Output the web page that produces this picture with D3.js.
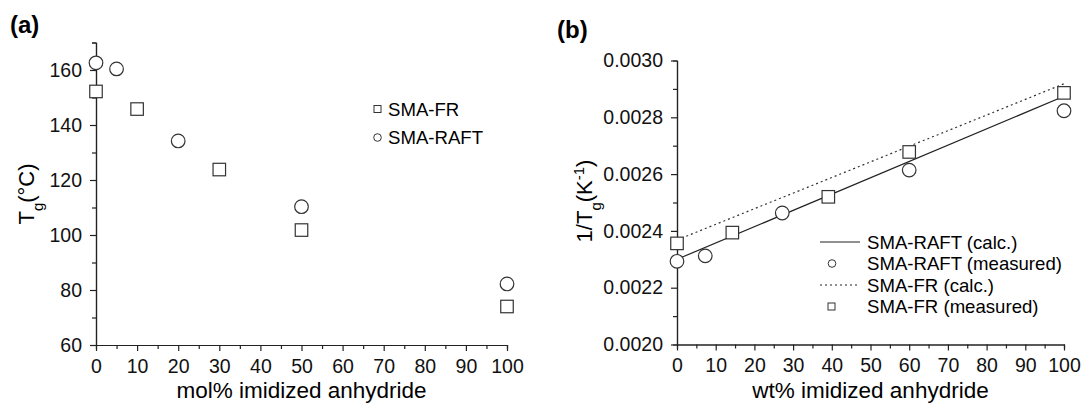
<!DOCTYPE html>
<html>
<head>
<meta charset="utf-8">
<script src="https://cdn.jsdelivr.net/npm/d3@7"></script>
<style>
  body { margin: 0; background: #fff; }
  svg { display: block; font-family: "Liberation Sans", Arial, sans-serif; }
  .axis path, .axis line { stroke: #222; stroke-width: 1.2; }
  .axis text { font-size: 19.5px; fill: #111; }
</style>
</head>
<body>
<div id="chart"></div>
<script>
// panel (a): Tg vs mol% imidized anhydride
var molFR = [0, 10, 30, 50, 100];
var tgFR = [152.2, 145.8, 123.8, 101.8, 74.0];
var molRAFT = [0, 5, 20, 50, 100];
var tgRAFT = [162.6, 160.4, 134.2, 110.3, 82.2];

// panel (b): 1/Tg vs wt% imidized anhydride
var wtRAFT = [0, 7.3, 27.2, 60, 100];
var invRAFT = [0.002293, 0.002312, 0.002463, 0.002614, 0.002823];
var wtFR = [0, 14.3, 39.1, 60, 100];
var invFR = [0.002356, 0.002394, 0.002520, 0.002678, 0.002886];
var calcX = [0, 100];
var raftCalc = [0.002300, 0.002874];
var frCalc = [0.002368, 0.002918];

var xTicks = d3.range(0, 101, 10);
var xMinor = d3.range(5, 100, 10);
var tgTicks = d3.range(60, 161, 20);
var tgMinor = d3.range(70, 171, 20);
var invTicks = [0.0020, 0.0022, 0.0024, 0.0026, 0.0028, 0.0030];
var invMinor = [0.0021, 0.0023, 0.0025, 0.0027, 0.0029];

var svg = d3.select("#chart").append("svg")
    .attr("width", 1082)
    .attr("height", 405);

function zip(xs, ys) {
    return xs.map(function(x, i) { return [x, ys[i]]; });
}

function drawAxes(g, x, y, yTicks, yMinor, yFmt, bottom, left) {
    g.append("g").attr("class", "axis")
        .attr("transform", "translate(0," + bottom + ")")
        .call(d3.axisBottom(x).tickValues(xMinor).tickSize(4).tickFormat(""));
    g.append("g").attr("class", "axis")
        .attr("transform", "translate(0," + bottom + ")")
        .call(d3.axisBottom(x).tickValues(xTicks).tickSize(6).tickSizeOuter(0).tickPadding(8));
    g.append("g").attr("class", "axis")
        .attr("transform", "translate(" + left + ",0)")
        .call(d3.axisLeft(y).tickValues(yMinor).tickSize(4).tickFormat(""));
    g.append("g").attr("class", "axis")
        .attr("transform", "translate(" + left + ",0)")
        .call(d3.axisLeft(y).tickValues(yTicks).tickSize(6).tickSizeOuter(0).tickPadding(8).tickFormat(yFmt));
}

function squares(g, pts, x, y, s) {
    g.selectAll(null).data(pts).enter().append("rect")
        .attr("x", function(d) { return x(d[0]) - s / 2; })
        .attr("y", function(d) { return y(d[1]) - s / 2; })
        .attr("width", s).attr("height", s)
        .attr("fill", "#fff").attr("stroke", "#333").attr("stroke-width", 1.2);
}

function circles(g, pts, x, y, r) {
    g.selectAll(null).data(pts).enter().append("circle")
        .attr("cx", function(d) { return x(d[0]); })
        .attr("cy", function(d) { return y(d[1]); })
        .attr("r", r)
        .attr("fill", "#fff").attr("stroke", "#333").attr("stroke-width", 1.2);
}

// ---------- panel (a) ----------
var xa = d3.scaleLinear().domain([0, 100]).range([96, 507]);
var ya = d3.scaleLinear().domain([60, 170]).range([345, 42.5]);
var ga = svg.append("g");

drawAxes(ga, xa, ya, tgTicks, tgMinor, d3.format("d"), 345, 96);

circles(ga, zip(molRAFT, tgRAFT), xa, ya, 6.8);
squares(ga, zip(molFR, tgFR), xa, ya, 12.5);

ga.append("text").attr("x", 10).attr("y", 33)
    .style("font-size", "24px").style("font-weight", "bold").text("(a)");

ga.append("text").attr("x", 301.5).attr("y", 398)
    .attr("text-anchor", "middle").style("font-size", "22.5px").text("mol% imidized anhydride");

var yla = ga.append("text")
    .attr("transform", "translate(34,194) rotate(-90)")
    .attr("text-anchor", "middle").style("font-size", "22px");
yla.append("tspan").text("T");
yla.append("tspan").attr("baseline-shift", "sub").style("font-size", "15px").text("g");
yla.append("tspan").text("(°C)");

// legend (a)
var legA = [{ name: "SMA-FR", shape: "sq" }, { name: "SMA-RAFT", shape: "ci" }];
legA.forEach(function(d, i) {
    var cy = 109 + i * 28.5;
    if (d.shape === "sq") {
        ga.append("rect").attr("x", 374).attr("y", cy - 3.5).attr("width", 7).attr("height", 7)
            .attr("fill", "#fff").attr("stroke", "#333");
    } else {
        ga.append("circle").attr("cx", 377.5).attr("cy", cy).attr("r", 3.8)
            .attr("fill", "#fff").attr("stroke", "#333");
    }
    ga.append("text").attr("x", 388).attr("y", cy).attr("dy", "0.36em")
        .style("font-size", "18.6px").text(d.name);
});

// ---------- panel (b) ----------
var xb = d3.scaleLinear().domain([0, 100]).range([677, 1064]);
var yb = d3.scaleLinear().domain([0.0020, 0.0030]).range([344.5, 60.5]);
var gb = svg.append("g");

drawAxes(gb, xb, yb, invTicks, invMinor, d3.format(".4f"), 344.5, 677);

var line = d3.line().x(function(d) { return xb(d[0]); }).y(function(d) { return yb(d[1]); });

gb.append("path").datum(zip(calcX, frCalc)).attr("d", line)
    .attr("fill", "none").attr("stroke", "#333").attr("stroke-width", 1.2).attr("stroke-dasharray", "2,3");
gb.append("path").datum(zip(calcX, raftCalc)).attr("d", line)
    .attr("fill", "none").attr("stroke", "#222").attr("stroke-width", 1.2);

circles(gb, zip(wtRAFT, invRAFT), xb, yb, 6.8);
squares(gb, zip(wtFR, invFR), xb, yb, 12.5);

gb.append("text").attr("x", 557).attr("y", 38)
    .style("font-size", "24px").style("font-weight", "bold").text("(b)");

gb.append("text").attr("x", 870.5).attr("y", 398)
    .attr("text-anchor", "middle").style("font-size", "22.5px").text("wt% imidized anhydride");

var ylb = gb.append("text")
    .attr("transform", "translate(592,201) rotate(-90)")
    .attr("text-anchor", "middle").style("font-size", "22px");
ylb.append("tspan").text("1/T");
ylb.append("tspan").attr("baseline-shift", "sub").style("font-size", "15px").text("g");
ylb.append("tspan").text("(K");
ylb.append("tspan").attr("baseline-shift", "super").style("font-size", "15px").text("-1");
ylb.append("tspan").text(")");

// legend (b)
var legB = [
    { name: "SMA-RAFT (calc.)", shape: "line" },
    { name: "SMA-RAFT (measured)", shape: "ci" },
    { name: "SMA-FR (calc.)", shape: "dash" },
    { name: "SMA-FR (measured)", shape: "sq" }
];
legB.forEach(function(d, i) {
    var cy = 242 + i * 21.5;
    if (d.shape === "line" || d.shape === "dash") {
        gb.append("line").attr("x1", 820).attr("x2", 860).attr("y1", cy).attr("y2", cy)
            .attr("stroke", "#222").attr("stroke-width", 1.2)
            .attr("stroke-dasharray", d.shape === "dash" ? "2,3" : null);
    } else if (d.shape === "ci") {
        gb.append("circle").attr("cx", 832).attr("cy", cy).attr("r", 3.8)
            .attr("fill", "#fff").attr("stroke", "#333");
    } else {
        gb.append("rect").attr("x", 828).attr("y", cy - 3.5).attr("width", 7).attr("height", 7)
            .attr("fill", "#fff").attr("stroke", "#333");
    }
    gb.append("text").attr("x", 867).attr("y", cy).attr("dy", "0.36em")
        .style("font-size", "18.6px").text(d.name);
});
</script>
</body>
</html>
